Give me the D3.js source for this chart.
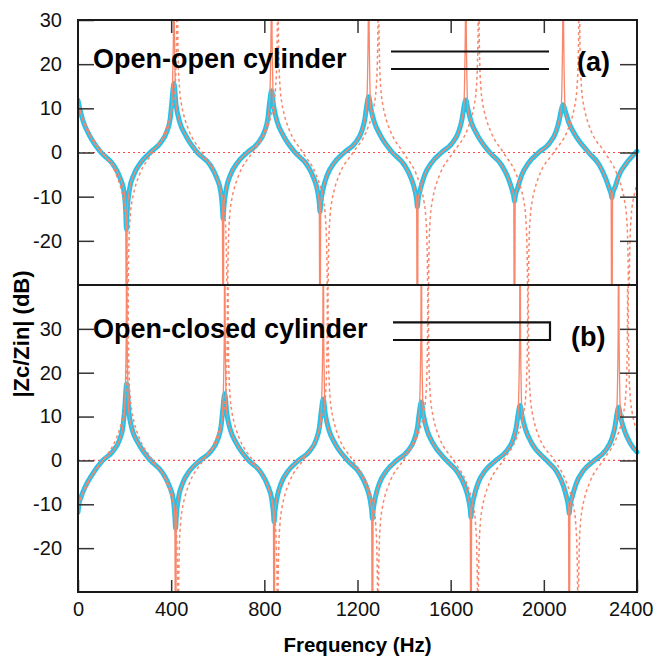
<!DOCTYPE html>
<html><head><meta charset="utf-8">
<script src="https://cdn.jsdelivr.net/npm/d3@7"></script>
<style>body{margin:0;background:#fff} svg{display:block} text{font-family:"Liberation Sans",Arial,sans-serif}</style>
</head><body>
<svg id="c" width="654" height="662"></svg>
<script>
// ---------- data ----------
const xTicks = [0,400,800,1200,1600,2000,2400];
const yTicksTop = [-20,-10,0,10,20,30];
const yTicksBottom = [-20,-10,0,10,20,30];
const titleTop = "Open-open cylinder";
const titleBottom = "Open-closed cylinder";

// (a) open-open: measured-like curve (thick blue)
const ooBlue = [
[0,11.8],[9,9.6],[24,6.8],[49,3.9],[99,0],[152,-2.8],[181,-5.8],[198,-8.9],[205,-13.5],[208,-17.5],
[211,-13.5],[222,-8.1],[239,-5.1],[268,-2.4],[310,0],[353,2.1],[382,4.8],[396,7.7],[403,11.5],[412,15.6],
[421,10.8],[436,7.0],[461,4.0],[512,0],[567,-2.8],[596,-5.8],[613,-8.9],[620,-12.6],[623,-15],
[626,-12.6],[637,-8.1],[654,-5.1],[683,-2.4],[727,0],[772,2.1],[801,4.8],[815,7.7],[822,11],[831,14],
[840,10.5],[855,7.0],[880,4.0],[932,0],[983,-2.8],[1012,-5.8],[1029,-8.9],[1036,-11.5],[1039,-13.4],
[1042,-11.5],[1053,-8.1],[1070,-5.1],[1099,-2.4],[1143,0],[1189,2.1],[1218,4.8],[1232,7.7],[1239,10.4],[1248,12.6],
[1257,10],[1272,6.9],[1297,4.0],[1350,0],[1401,-2.8],[1430,-5.8],[1447,-8.7],[1454,-10.8],[1457,-12.3],
[1460,-10.8],[1471,-8.1],[1488,-5.1],[1517,-2.4],[1561,0],[1606,2.1],[1635,4.8],[1649,7.6],[1656,10],[1665,11.9],
[1674,9.8],[1689,6.8],[1714,4.0],[1768,0],[1818,-2.8],[1847,-5.8],[1864,-8.5],[1871,-10],[1874,-11.1],
[1877,-10],[1888,-8],[1905,-5.1],[1934,-2.4],[1978,0],[2024,2.1],[2053,4.8],[2067,7.5],[2074,9.4],[2083,10.8],
[2092,9.4],[2107,6.8],[2132,4.2],[2192,0],[2238,-2.8],[2265,-5.8],[2282,-8.3],[2289,-9.4],[2292,-10.3],
[2295,-9.4],[2306,-7.8],[2323,-5.1],[2352,-2.6],[2400,0.3]
];
// thin solid curve: follows blue, shoots off-scale at resonances
const ooSolidSpikes = [
[206,-28],[208,-70],[210,-28],[410,28],[412,70],[414,28],[621,-28],[623,-70],[625,-28],
[829,28],[831,70],[833,28],[1037,-28],[1039,-70],[1041,-28],[1246,28],[1248,70],[1250,28],
[1455,-28],[1457,-70],[1459,-28],[1663,28],[1665,70],[1667,28],[1872,-28],[1874,-70],[1876,-28],
[2081,28],[2083,70],[2085,28],[2290,-28],[2292,-70],[2294,-28]
];
// dashed curve (resonances slightly higher in frequency)
const ooDashed = [
[0,11.8],[10,9.5],[28,7],[50,4.5],[105,0],[164,-5],[186,-8.5],[196,-11],[204,-14.5],[209,-20],[212,-30],[214,-70],
[216,-30],[219,-20],[224,-14.5],[232,-11],[242,-8.5],[264,-5],[320,0],[376,5],[398,8.5],[408,11],[416,14.5],[421,20],[424,30],[426,70],
[428,30],[431,20],[436,14.5],[444,11],[454,8.5],[476,5],[533,0],[591,-5],[613,-8.5],[623,-11],[631,-14.5],[636,-20],[639,-30],[641,-70],
[643,-30],[646,-20],[651,-14.5],[659,-11],[669,-8.5],[691,-5],[749,0],[808,5],[830,8.5],[840,11],[848,14.5],[853,20],[856,30],[858,70],
[860,30],[863,20],[868,14.5],[876,11],[886,8.5],[908,5],[965,0],[1022,-5],[1044,-8.5],[1054,-11],[1062,-14.5],[1067,-20],[1070,-30],[1072,-70],
[1074,-30],[1077,-20],[1082,-14.5],[1090,-11],[1100,-8.5],[1122,-5],[1181,0],[1240,5],[1262,8.5],[1272,11],[1280,14.5],[1285,20],[1288,30],[1290,70],
[1292,30],[1295,20],[1300,14.5],[1308,11],[1318,8.5],[1340,5],[1396,0],[1453,-5],[1475,-8.5],[1485,-11],[1493,-14.5],[1498,-20],[1501,-30],[1503,-70],
[1505,-30],[1508,-20],[1513,-14.5],[1521,-11],[1531,-8.5],[1553,-5],[1611,0],[1670,5],[1692,8.5],[1702,11],[1710,14.5],[1715,20],[1718,30],[1720,70],
[1722,30],[1725,20],[1730,14.5],[1738,11],[1748,8.5],[1770,5],[1826,0],[1882,-5],[1904,-8.5],[1914,-11],[1922,-14.5],[1927,-20],[1930,-30],[1932,-70],
[1934,-30],[1937,-20],[1942,-14.5],[1950,-11],[1960,-8.5],[1982,-5],[2042,0],[2102,5],[2124,8.5],[2134,11],[2142,14.5],[2147,20],[2150,30],[2152,70],
[2154,30],[2157,20],[2162,14.5],[2170,11],[2180,8.5],[2202,5],[2262,0],[2315,-5],[2337,-8.5],[2347,-11],[2355,-14.5],[2360,-20],[2363,-30],[2365,-70],
[2367,-30],[2370,-20],[2375,-14.5],[2383,-11],[2393,-8.5],[2410,-5]
];

// (b) open-closed
const ocBlue = [
[0,-11.8],[4,-10],[14,-8.2],[31,-6],[60,-3.3],[106,0],[150,2.1],[179,4.8],[193,7.7],[200,11.5],[209,17.4],
[218,11.2],[233,7.0],[258,4.0],[311,0],[363,-2.8],[392,-5.8],[409,-8.9],[416,-12.8],[419,-15.5],
[422,-12.8],[433,-8.1],[450,-5.1],[479,-2.4],[524,0],[571,2.1],[600,4.8],[614,7.7],[621,11.2],[630,15.2],
[639,10.7],[654,7.0],[679,4.0],[733,0],[786,-2.8],[815,-5.8],[832,-8.9],[839,-12],[842,-14],
[845,-12],[856,-8.1],[873,-5.1],[902,-2.4],[947,0],[994,2.1],[1023,4.8],[1037,7.7],[1044,11],[1053,14],
[1062,10.5],[1077,7.0],[1102,4.0],[1157,0],[1208,-2.8],[1237,-5.8],[1254,-8.9],[1261,-11.5],[1264,-13.3],
[1267,-11.5],[1278,-8.1],[1295,-5.1],[1324,-2.4],[1369,0],[1415,2.1],[1444,4.8],[1458,7.7],[1465,10.8],[1474,13.3],
[1483,10.3],[1498,7.0],[1523,4.0],[1582,0],[1631,-2.8],[1660,-5.8],[1677,-8.9],[1684,-11.2],[1687,-12.9],
[1690,-11.2],[1701,-8.1],[1718,-5.1],[1747,-2.4],[1794,0],[1839,2.1],[1868,4.8],[1882,7.7],[1889,10.3],[1898,12.5],
[1907,10],[1922,7.0],[1947,4.0],[2012,0],[2058,-2.8],[2084,-5.8],[2099,-8.7],[2106,-10.6],[2109,-12.1],
[2112,-10.6],[2123,-8.1],[2140,-5.1],[2169,-2.4],[2217,0],[2262,2.1],[2291,4.8],[2305,7.6],[2312,10],[2321,12.1],
[2330,9.8],[2345,7.0],[2370,4.0],[2400,1.9]
];
const ocSolidSpikes = [
[207,28],[209,70],[211,28],[417,-28],[419,-70],[421,-28],[628,28],[630,70],[632,28],
[840,-28],[842,-70],[844,-28],[1051,28],[1053,70],[1055,28],[1262,-28],[1264,-70],[1266,-28],
[1472,28],[1474,70],[1476,28],[1685,-28],[1687,-70],[1689,-28],[1896,28],[1898,70],[1900,28],
[2107,-28],[2109,-70],[2111,-28],[2319,28],[2321,70],[2323,28]
];
const ocDashed = [
[0,-11.8],[10,-9.5],[28,-7],[50,-4.5],[107,0],[164,5],[186,8.5],[196,11],[204,14.5],[209,20],[212,30],[214,70],
[216,30],[219,20],[224,14.5],[232,11],[242,8.5],[264,5],[322,0],[380,-5],[402,-8.5],[412,-11],[420,-14.5],[425,-20],[428,-30],[430,-70],
[432,-30],[435,-20],[440,-14.5],[448,-11],[458,-8.5],[480,-5],[537,0],[593,5],[615,8.5],[625,11],[633,14.5],[638,20],[641,30],[643,70],
[645,30],[648,20],[653,14.5],[661,11],[671,8.5],[693,5],[750,0],[807,-5],[829,-8.5],[839,-11],[847,-14.5],[852,-20],[855,-30],[857,-70],
[859,-30],[862,-20],[867,-14.5],[875,-11],[885,-8.5],[907,-5],[965,0],[1022,5],[1044,8.5],[1054,11],[1062,14.5],[1067,20],[1070,30],[1072,70],
[1074,30],[1077,20],[1082,14.5],[1090,11],[1100,8.5],[1122,5],[1180,0],[1238,-5],[1260,-8.5],[1270,-11],[1278,-14.5],[1283,-20],[1286,-30],[1288,-70],
[1290,-30],[1293,-20],[1298,-14.5],[1306,-11],[1316,-8.5],[1338,-5],[1396,0],[1453,5],[1475,8.5],[1485,11],[1493,14.5],[1498,20],[1501,30],[1503,70],
[1505,30],[1508,20],[1513,14.5],[1521,11],[1531,8.5],[1553,5],[1612,0],[1667,-5],[1689,-8.5],[1699,-11],[1707,-14.5],[1712,-20],[1715,-30],[1717,-70],
[1719,-30],[1722,-20],[1727,-14.5],[1735,-11],[1745,-8.5],[1767,-5],[1825,0],[1882,5],[1904,8.5],[1914,11],[1922,14.5],[1927,20],[1930,30],[1932,70],
[1934,30],[1937,20],[1942,14.5],[1950,11],[1960,8.5],[1982,5],[2046,0],[2097,-5],[2119,-8.5],[2129,-11],[2137,-14.5],[2142,-20],[2145,-30],[2147,-70],
[2149,-30],[2152,-20],[2157,-14.5],[2165,-11],[2175,-8.5],[2197,-5],[2254,0],[2311,5],[2333,8.5],[2343,11],[2351,14.5],[2356,20],[2359,30],[2361,70],
[2363,30],[2366,20],[2371,14.5],[2379,11],[2389,8.5],[2411,5]
];

// ---------- layout ----------
const L=78, R=637, T=20, M=285, B=592;
const BLUE="#1fc4ee", SALMON="#f8876b", ZERO="#ff4545", INK="#1a1a1a";
const svg = d3.select("#c");
const x = d3.scaleLinear().domain([0,2400]).range([L,R]);
const yA = d3.scaleLinear().domain([-30,30]).range([M,T]);
const yB = d3.scaleLinear().domain([-30,40]).range([B,M]);
const fmt = d => String(d);

function mergeSpikes(base, spikes){
  const centers = spikes.filter(p=>Math.abs(p[1])>=60).map(p=>p[0]);
  const kept = base.filter(p=>!centers.some(c=>Math.abs(c-p[0])<2.5));
  return kept.concat(spikes).sort((a,b)=>a[0]-b[0]);
}

const defs = svg.append("defs");
function clip(id, x0, y0, x1, y1){
  defs.append("clipPath").attr("id",id).append("rect")
    .attr("x",x0).attr("y",y0).attr("width",x1-x0).attr("height",y1-y0);
}
clip("cA", L, T, R, M); clip("cAb", L-1, T, R+3, M);
clip("cB", L, M, R, B); clip("cBb", L-1, M, R+3, B);

function panel(y, blue, spikes, dashed, cid, cidb){
  const line = d3.line().x(d=>x(d[0])).y(d=>y(d[1])).curve(d3.curveMonotoneX);
  const g = svg.append("g");
  g.append("line").attr("x1",L).attr("x2",R).attr("y1",y(0)).attr("y2",y(0))
    .attr("stroke",ZERO).attr("stroke-width",1.2).attr("stroke-dasharray","2,3");
  g.append("path").attr("d",line(blue)).attr("clip-path",`url(#${cidb})`)
    .attr("fill","none").attr("stroke",BLUE).attr("stroke-width",5)
    .attr("stroke-linecap","round").attr("stroke-linejoin","round");
  g.append("path").attr("d",line(dashed)).attr("clip-path",`url(#${cid})`)
    .attr("fill","none").attr("stroke",SALMON).attr("stroke-width",1.5)
    .attr("stroke-dasharray","3,3");
  g.append("path").attr("d",line(mergeSpikes(blue,spikes))).attr("clip-path",`url(#${cid})`)
    .attr("fill","none").attr("stroke",SALMON).attr("stroke-width",1.3);
}
panel(yA, ooBlue, ooSolidSpikes, ooDashed, "cA", "cAb");
panel(yB, ocBlue, ocSolidSpikes, ocDashed, "cB", "cBb");

// ---------- axes ----------
function styleAxis(g){
  g.select(".domain").remove();
  g.selectAll(".tick line").attr("stroke","#333").attr("stroke-width",1.5);
  g.selectAll(".tick text").attr("fill","#111").style("font-size","20px")
    .style("font-family",'"Liberation Sans",Arial,sans-serif');
}
svg.append("g").attr("transform",`translate(${L},0)`)
  .call(d3.axisLeft(yA).tickValues(yTicksTop).tickFormat(fmt).tickSizeInner(-16).tickSizeOuter(0).tickPadding(16))
  .call(styleAxis);
svg.append("g").attr("transform",`translate(${L},0)`)
  .call(d3.axisLeft(yB).tickValues(yTicksBottom).tickFormat(fmt).tickSizeInner(-16).tickSizeOuter(0).tickPadding(16))
  .call(styleAxis);
svg.append("g").attr("transform",`translate(${R},0)`)
  .call(d3.axisRight(yA).tickValues(yTicksTop.filter(v=>v<30)).tickSizeInner(-17).tickSizeOuter(0).tickFormat(""))
  .call(styleAxis);
svg.append("g").attr("transform",`translate(${R},0)`)
  .call(d3.axisRight(yB).tickValues(yTicksBottom).tickSizeInner(-17).tickSizeOuter(0).tickFormat(""))
  .call(styleAxis);
svg.append("g").attr("transform",`translate(0,${T})`)
  .call(d3.axisTop(x).tickValues(xTicks.slice(1,-1)).tickSizeInner(-13).tickSizeOuter(0).tickFormat(""))
  .call(styleAxis);
const xb = svg.append("g").attr("transform",`translate(0,${B})`)
  .call(d3.axisBottom(x).tickValues(xTicks).tickFormat(fmt).tickSizeInner(-12).tickSizeOuter(0).tickPadding(10))
  .call(styleAxis);
xb.selectAll(".tick text").filter(d=>d===2400).attr("text-anchor","end").attr("x",16);

// frame
svg.append("rect").attr("x",L).attr("y",T).attr("width",R-L).attr("height",B-T)
  .attr("fill","none").attr("stroke",INK).attr("stroke-width",2);
svg.append("line").attr("x1",L).attr("x2",R).attr("y1",M).attr("y2",M)
  .attr("stroke",INK).attr("stroke-width",2);

// titles & labels
svg.append("text").attr("x",93).attr("y",68).text(titleTop)
  .style("font-size","27px").style("font-weight","bold").attr("fill","#000");
svg.append("text").attr("x",93).attr("y",338).text(titleBottom)
  .style("font-size","27px").style("font-weight","bold").attr("fill","#000");
svg.append("text").attr("x",577).attr("y",71).text("(a)")
  .style("font-size","27px").style("font-weight","bold").attr("fill","#000");
svg.append("text").attr("x",571).attr("y",346).text("(b)")
  .style("font-size","27px").style("font-weight","bold").attr("fill","#000");
svg.append("text").attr("transform","translate(29,334) rotate(-90)").attr("text-anchor","middle")
  .text("|Zc/Zin| (dB)").style("font-size","22px").style("font-weight","bold").attr("fill","#000");
svg.append("text").attr("x",(L+R)/2).attr("y",652).attr("text-anchor","middle")
  .text("Frequency (Hz)").style("font-size","20.5px").style("font-weight","bold").attr("fill","#000");

// cylinder pictograms
const pic = svg.append("g").attr("stroke","#111").attr("stroke-width",2.2).attr("fill","none");
pic.append("line").attr("x1",391).attr("x2",549).attr("y1",51.5).attr("y2",51.5);
pic.append("line").attr("x1",391).attr("x2",549).attr("y1",69).attr("y2",69);
pic.append("path").attr("d","M393,322.3H550V340H393");
</script>
</body></html>
